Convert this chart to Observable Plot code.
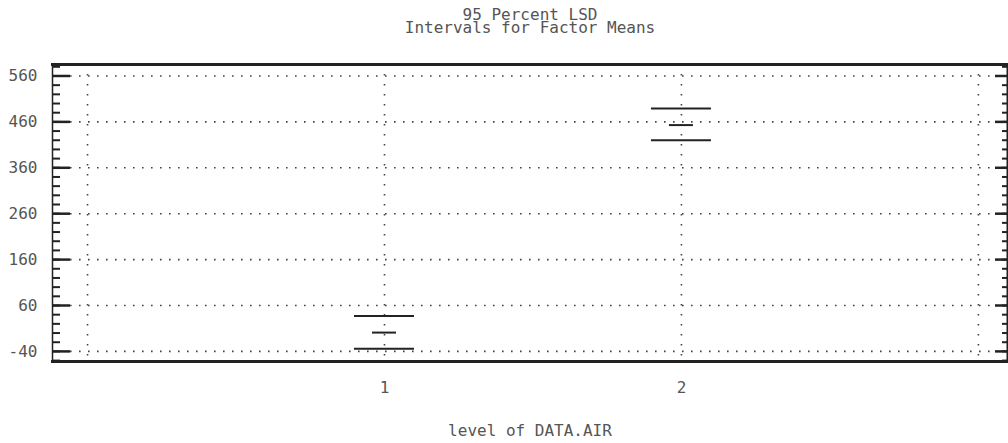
<!DOCTYPE html>
<html>
<head>
<meta charset="utf-8">
<script src="https://cdn.jsdelivr.net/npm/d3@7"></script>
<script src="https://cdn.jsdelivr.net/npm/@observablehq/plot@0.6"></script>
<style>
  html, body { margin: 0; padding: 0; background: #fff; }
  #wrap { position: relative; width: 1008px; height: 443px; overflow: hidden; }
  .lbl { position: absolute; font-family: "DejaVu Sans Mono", "Liberation Mono", monospace; font-size: 16px; color: #555; white-space: pre; text-align: center; }
  #title { left: 330px; width: 400px; top: 8px; line-height: 13px; }
  #xlabel { left: 330px; width: 400px; top: 422px; line-height: 18px; }
</style>
</head>
<body>
<div id="wrap">
  <div id="chart"></div>
  <div id="title" class="lbl"></div>
  <div id="xlabel" class="lbl"></div>
</div>
<script>
// ---- data ----
const titleLines = ["95 Percent LSD", "Intervals for Factor Means"];
const xAxisLabel = "level of DATA.AIR";
const levels = [1, 2];
const lowerLimits = [-34, 420];
const means = [1, 453];
const upperLimits = [37, 489];
const yTicks = [-40, 60, 160, 260, 360, 460, 560];
const yMinorTicks = [-60, -40, -20, 0, 20, 40, 60, 80, 100, 120, 140, 160, 180, 200, 220, 240, 260, 280, 300, 320, 340, 360, 380, 400, 420, 440, 460, 480, 500, 520, 540, 560, 580];
const xGridLevels = [0, 1, 2, 3];
const xTickLevels = [1, 2];

const rows = levels.map((level, i) => ({level, lower: lowerLimits[i], mean: means[i], upper: upperLimits[i]}));

const W = 1008, H = 443, mL = 52, mR = 1, mT = 64, mB = 82;
const innerW = W - mL - mR;
const font = '"DejaVu Sans Mono", "Liberation Mono", monospace';
const ink = "#222";
const dotted = "#444";

const chart = Plot.plot({
  width: W,
  height: H,
  marginLeft: mL,
  marginRight: mR,
  marginTop: mT,
  marginBottom: mB,
  style: {fontFamily: font, fontSize: "16px", color: "#555", background: "#fff"},
  x: {type: "linear", domain: [-0.118, 3.098]},
  y: {type: "linear", domain: [-62, 585]},
  marks: [
    // dotted grid
    Plot.ruleY(yTicks, {y: d => d, stroke: dotted, strokeWidth: 1.6, strokeDasharray: "1.6,7.4", insetLeft: 18, insetRight: 12}),
    Plot.ruleX(xGridLevels, {x: d => d, stroke: dotted, strokeWidth: 1.6, strokeDasharray: "1.6,8.4"}),
    // inner tick marks, left and right
    Plot.tickY(yMinorTicks, {y: d => d, stroke: ink, strokeWidth: 2, insetRight: innerW - 8}),
    Plot.tickY(yTicks, {y: d => d, stroke: ink, strokeWidth: 2.5, insetRight: innerW - 18}),
    Plot.tickY(yMinorTicks, {y: d => d, stroke: ink, strokeWidth: 2, insetLeft: innerW - 5}),
    Plot.tickY(yTicks, {y: d => d, stroke: ink, strokeWidth: 2.5, insetLeft: innerW - 12}),
    // axis labels
    Plot.axisY({ticks: yTicks, tickSize: 0, tickPadding: 15, tickFormat: d => String(d), label: null, fill: "#555"}),
    Plot.axisX({ticks: xTickLevels, tickSize: 0, tickPadding: 20, tickFormat: d => String(d), label: null, fill: "#555"}),
    // LSD intervals
    Plot.ruleY(rows, {y: "upper", x1: "level", x2: "level", insetLeft: -30, insetRight: -30, stroke: ink, strokeWidth: 2}),
    Plot.ruleY(rows, {y: "lower", x1: "level", x2: "level", insetLeft: -30, insetRight: -30, stroke: ink, strokeWidth: 2}),
    Plot.ruleY(rows, {y: "mean", x1: "level", x2: "level", insetLeft: -12, insetRight: -12, stroke: ink, strokeWidth: 2}),
    // frame
    Plot.frame({anchor: "left", stroke: ink, strokeWidth: 1.5}),
    Plot.frame({anchor: "right", stroke: ink, strokeWidth: 2}),
    Plot.frame({anchor: "top", stroke: ink, strokeWidth: 3}),
    Plot.frame({anchor: "bottom", stroke: ink, strokeWidth: 3})
  ]
});
document.getElementById("chart").appendChild(chart);
document.getElementById("title").textContent = titleLines.join("\n");
document.getElementById("xlabel").textContent = xAxisLabel;
</script>
</body>
</html>
